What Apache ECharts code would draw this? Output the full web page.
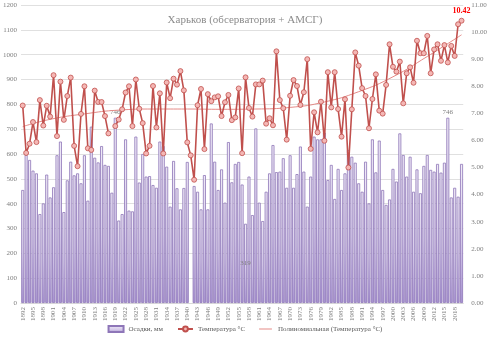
<!DOCTYPE html>
<html><head><meta charset="utf-8">
<script src="https://cdn.jsdelivr.net/npm/echarts@6/dist/echarts.min.js"></script>
<style>html,body{margin:0;padding:0;background:#fff}#c{width:490px;height:344px}</style>
</head><body><div id="c"></div>
<script>
var years = ['1892','1893','1894','1895','1896','1897','1898','1899','1900','1901','1902','1903','1904','1905','1906','1907','1908','1909','1910','1911','1912','1913','1914','1915','1916','1917','1918','1919','1920','1921','1922','1923','1924','1925','1926','1927','1928','1929','1930','1931','1932','1933','1934','1935','1936','1937','1938','1939','1940','1941','1942','1943','1944','1945','1946','1947','1948','1949','1950','1951','1952','1953','1954','1955','1956','1957','1958','1959','1960','1961','1962','1963','1964','1965','1966','1967','1968','1969','1970','1971','1972','1973','1974','1975','1976','1977','1978','1979','1980','1981','1982','1983','1984','1985','1986','1987','1988','1989','1990','1991','1992','1993','1994','1995','1996','1997','1998','1999','2000','2001','2002','2003','2004','2005','2006','2007','2008','2009','2010','2011','2012','2013','2014','2015','2016','2017','2018','2019','2020'];

var precipitation = [455,596,576,533,522,358,401,517,425,466,595,650,366,494,569,514,522,482,595,412,
710,585,566,632,556,552,444,746,332,358,659,372,369,670,485,600,509,511,475,464,
650,632,549,388,572,462,377,463,568,null,471,448,377,515,377,723,569,455,538,404,
648,486,560,568,477,319,509,354,703,404,330,448,522,636,527,529,583,464,595,464,
519,630,529,388,509,670,659,659,686,495,556,419,540,455,522,616,589,565,482,448,
569,401,659,526,654,455,395,417,540,489,683,596,509,589,448,538,442,552,596,536,
529,560,525,565,746,425,464,428,560];

var temperature = [7.29,5.54,5.88,6.68,5.94,7.49,6.55,7.28,6.88,8.41,6.16,8.17,6.76,7.64,8.32,5.80,5.05,6.98,8.00,5.71,
5.65,7.84,7.42,7.42,6.90,6.26,null,6.53,6.77,7.15,7.77,8.00,6.53,8.25,7.17,6.64,5.52,5.80,8.01,6.48,
7.74,5.52,8.14,7.56,8.28,8.06,8.56,7.85,5.93,5.45,4.55,7.30,7.90,5.68,7.71,7.45,7.59,7.63,6.90,7.41,
7.68,6.75,6.85,7.92,5.53,8.33,7.20,6.88,8.07,8.07,8.21,6.62,6.82,6.56,9.29,7.49,7.19,6.03,7.65,8.23,
8.01,7.31,7.78,9.00,5.69,7.04,6.30,7.43,5.99,8.52,7.22,8.52,7.16,6.14,7.52,5.00,7.15,9.25,8.76,7.93,
7.64,6.45,7.53,8.44,7.10,6.99,8.05,9.55,8.72,8.54,8.91,7.37,8.48,8.70,8.13,9.68,9.22,9.22,9.86,8.48,
9.36,9.55,8.94,9.52,8.88,9.49,9.12,10.29,10.42];

// polynomial trend at a few years
var trendYears  = ['1892','1900','1910','1920','1930','1940','1950','1960','1970','1980','1990','2000','2010','2020'];
var trendValues = [6.51, 6.78, 6.98, 7.12, 7.16, 7.16, 7.15, 7.16, 7.22, 7.42, 7.80, 8.35, 9.10, 9.90];

var labelTop = ['1919','2016'];
var labelInside = ['1957'];
var labelTemp = ['2020'];

var FONT = 'Liberation Serif';
var barData = precipitation.map(function(v,i){
  var o = {value: v};
  if (labelTop.indexOf(years[i]) >= 0) o.label = {show:true, position:'top', distance:2};
  if (labelInside.indexOf(years[i]) >= 0) o.label = {show:true, position:'inside'};
  return o;
});
var tempData = temperature.map(function(v,i){
  var o = {value: v};
  if (labelTemp.indexOf(years[i]) >= 0) o.label = {show:true, position:'top', distance:3, color:'#ff0000', fontWeight:'bold', fontSize:8, fontFamily:FONT, formatter: function(p){return p.value.toFixed(2);}};
  return o;
});
var trendData = years.map(function(y){
  var k = trendYears.indexOf(y);
  return k >= 0 ? trendValues[k] : null;
});

var chart = echarts.init(document.getElementById('c'), null, {renderer:'canvas'});
chart.setOption({
  animation:false,
  backgroundColor:'#fff',
  textStyle:{fontFamily:FONT},
  title:{text:'Харьков (обсерватория + АМСГ)', left:'center', top:10,
    textStyle:{fontFamily:FONT, fontSize:11, fontWeight:'normal', color:'#8c8c8c'}},
  grid:{left:20, right:21, top:5, bottom:41, containLabel:false},
  legend:{bottom:6, left:'center', itemGap:14, itemWidth:15, itemHeight:6,
    textStyle:{fontFamily:FONT, fontSize:7, color:'#595959'},
    data:[{name:'Осадки, мм', icon:'rect'}, {name:'Температура °С'},
      {name:'Полиномиальная (Температура °С)', icon:'path://M0,-3L0.01,-3L0.01,-2.99L0,-2.99Z M0,0L15,0L15,1L0,1Z M0,4L0.01,4L0.01,4.01L0,4.01Z'}]},
  xAxis:{type:'category', data:years, boundaryGap:true,
    axisLine:{lineStyle:{color:'#d9d9d9'}}, axisTick:{show:false},
    axisLabel:{interval:2, rotate:90, fontSize:7, color:'#7f7f7f', fontFamily:FONT, margin:4}},
  yAxis:[
    {type:'value', min:0, max:1200, interval:100,
      axisLine:{show:false}, axisTick:{show:false},
      axisLabel:{fontSize:7, color:'#7f7f7f', fontFamily:FONT, margin:4, formatter:function(v){return String(v);}},
      splitLine:{lineStyle:{color:'#e0e0e0'}}},
    {type:'value', min:0, max:11, interval:1,
      axisLine:{show:false}, axisTick:{show:false},
      axisLabel:{fontSize:7, color:'#7f7f7f', fontFamily:FONT, margin:8, formatter:function(v){return v.toFixed(2);}},
      splitLine:{show:false}}
  ],
  series:[
    {name:'Осадки, мм', type:'bar', data:barData, barCategoryGap:'14%',
      itemStyle:{borderColor:'#8e76b8', borderWidth:0.8,
        color:new echarts.graphic.LinearGradient(0,0,0,1,[{offset:0,color:'#f1ecf8'},{offset:0.55,color:'#d6cbea'},{offset:1,color:'#a692d0'}])},
      label:{show:false, color:'#7f7f7f', fontSize:7, fontFamily:FONT},
      z:1},
    {name:'Температура °С', type:'line', yAxisIndex:1, data:tempData, connectNulls:false,
      symbol:'circle', symbolSize:5, showAllSymbol:true,
      lineStyle:{color:'#c0504d', width:1.6},
      itemStyle:{color:'#f4b7b5', borderColor:'#c0504d', borderWidth:0.8}, z:3},
    {name:'Полиномиальная (Температура °С)', type:'line', yAxisIndex:1, data:trendData, connectNulls:true,
      smooth:0.5, symbol:'none', lineStyle:{color:'#e58b88', width:1}, itemStyle:{color:'#e58b88'}, z:2}
  ]
});
</script></body></html>
